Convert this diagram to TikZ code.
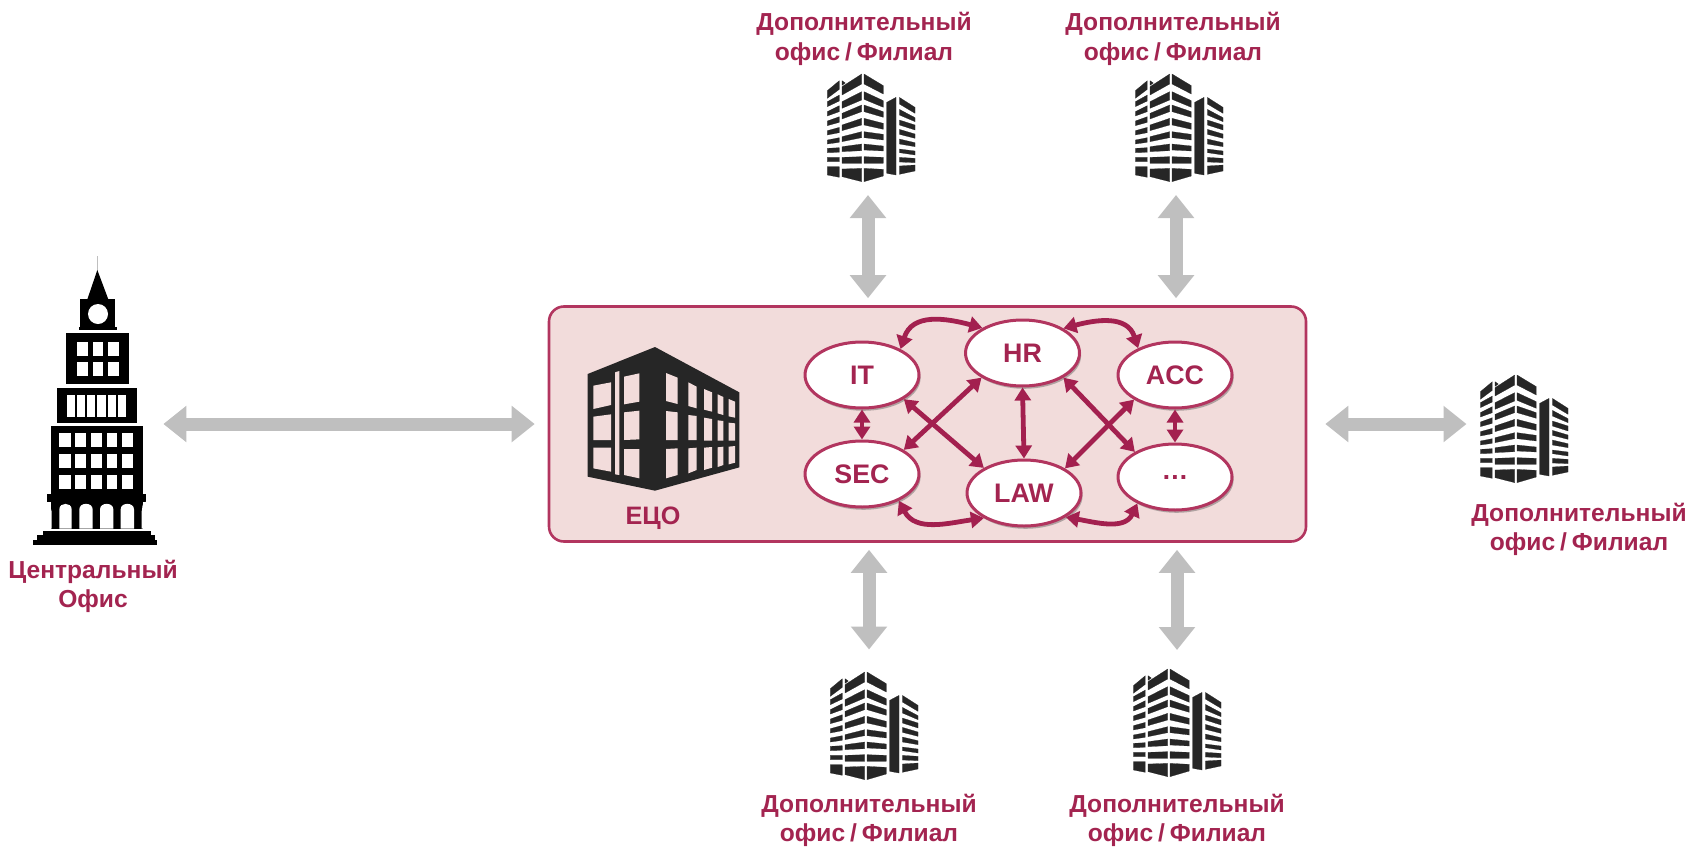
\documentclass[tikz,border=0pt]{standalone}
\usepackage{fontspec}
\setmainfont{Liberation Sans}
\usetikzlibrary{arrows.meta,shapes.geometric,shadows,calc}
\definecolor{wine}{HTML}{A3204F}
\definecolor{winetext}{HTML}{A32450}
\definecolor{boxfill}{HTML}{F2DCDB}
\definecolor{boxline}{HTML}{B2355F}
\definecolor{arrowgray}{HTML}{BFBFBF}
\definecolor{bldg}{HTML}{262626}
\newcommand\slashgap{\hspace{0.2em}/\hspace{0.2em}}
\tikzset{
  officelabel/.style={align=center,text=winetext,font=\fontsize{12.3}{14.7}\selectfont\bfseries,inner sep=0pt},
  dept/.style={ellipse,draw=boxline,line width=1.5pt,fill=white,minimum width=57pt,minimum height=33pt,inner sep=0pt,
    text=winetext,font=\fontsize{13.4}{15}\selectfont\bfseries,
    drop shadow={shadow xshift=0.8pt,shadow yshift=-1.4pt,opacity=0.4,fill=black!70}},
  link/.style={draw=wine,line width=2.4pt,{Triangle[width=8pt,length=6.5pt]}-{Triangle[width=8pt,length=6.5pt]}},
  bigarrow/.style={draw=arrowgray,line width=6.5pt,{Triangle[width=17.5pt,length=11.5pt]}-{Triangle[width=17.5pt,length=11.5pt]}},
  spot/.style={minimum width=44pt,minimum height=54pt,inner sep=0pt,outer sep=0pt},
  band/.style={fill=bldg,draw=bldg,line width=0.1pt,line join=round},
  office/.pic={
    \begin{scope}[x=0.16667pt,y=-0.16667pt]
      \path[band] (132,12)--(190,47)--(190,72)--(132,42)--cycle
        (132,65)--(190,92)--(190,112)--(132,88)--cycle
        (132,105)--(190,125)--(190,142)--(132,125)--cycle
        (132,145)--(190,160)--(190,178)--(132,165)--cycle
        (132,185)--(190,193)--(190,210)--(132,203)--cycle
        (132,222)--(190,228)--(190,243)--(132,240)--cycle
        (132,260)--(190,262)--(190,280)--(132,280)--cycle
        (132,295)--(190,298)--(190,318)--(132,335)--cycle;
      \path[band] (125,12)--(66,50)--(66,75)--(125,42)--cycle
        (125,65)--(66,95)--(66,115)--(125,90)--cycle
        (125,105)--(66,130)--(66,147)--(125,125)--cycle
        (125,145)--(66,165)--(66,182)--(125,165)--cycle
        (125,185)--(66,200)--(66,215)--(125,203)--cycle
        (125,222)--(66,230)--(66,245)--(125,242)--cycle
        (125,260)--(66,262)--(66,280)--(125,280)--cycle
        (125,295)--(66,297)--(66,320)--(125,335)--cycle
        (66,32)--(76,39)--(66,46)--cycle;
      \path[band] (58,32)--(22,62)--(22,85)--(58,58)--cycle
        (58,75)--(22,95)--(22,110)--(58,93)--cycle
        (58,107)--(22,125)--(22,138)--(58,125)--cycle
        (58,140)--(22,153)--(22,167)--(58,157)--cycle
        (58,172)--(22,182)--(22,195)--(58,188)--cycle
        (58,203)--(22,210)--(22,222)--(58,217)--cycle
        (58,233)--(22,235)--(22,248)--(58,247)--cycle
        (58,262)--(22,262)--(22,275)--(58,275)--cycle
        (58,290)--(22,290)--(22,315)--(58,322)--cycle;
      \path[band] (200,97)--(228,82)--(228,315)--(200,310)--cycle;
      \path[band] (238,82)--(285,112)--(285,130)--(238,102)--cycle
        (238,118)--(285,143)--(285,155)--(238,135)--cycle
        (238,150)--(285,165)--(285,180)--(238,165)--cycle
        (238,178)--(285,192)--(285,205)--(238,193)--cycle
        (238,207)--(285,218)--(285,230)--(238,222)--cycle
        (238,237)--(285,243)--(285,255)--(238,248)--cycle
        (238,262)--(285,265)--(285,278)--(238,276)--cycle
        (238,288)--(285,285)--(285,303)--(238,313)--cycle;
    \end{scope}
  }
}
\begin{document}
\begin{tikzpicture}[x=0.5pt,y=-0.5pt]
\useasboundingbox (0,0) rectangle (1690,846);

% central box
\node[draw=boxline,fill=boxfill,line width=1.3pt,rounded corners=7.5pt,minimum width=378.5pt,minimum height=117.5pt,inner sep=0pt] (box) at (927.5,424) {};

% central office building (ЕЦО)
\begin{scope}[shift={(540,295)},x=0.16667pt,y=-0.16667pt]
  \fill[bldg] (143,237)--(345,156)--(598,292)--(598,517)--(345,587)--(143,545)--cycle;
  \fill[boxfill]
    (160,272)--(213,262)--(213,330)--(160,342)--cycle
    (160,365)--(213,358)--(213,435)--(160,435)--cycle
    (160,458)--(213,458)--(213,530)--(160,520)--cycle
    (225,232)--(238,228)--(238,540)--(225,538)--cycle
    (252,245)--(298,235)--(298,320)--(252,328)--cycle
    (252,352)--(298,347)--(298,433)--(252,435)--cycle
    (252,462)--(298,462)--(298,550)--(252,540)--cycle
    (378,234)--(413,248)--(413,327)--(378,318)--cycle
    (378,348)--(413,352)--(413,435)--(378,435)--cycle
    (378,462)--(413,460)--(413,540)--(378,550)--cycle
    (445,262)--(470,275)--(470,340)--(445,333)--cycle
    (445,360)--(470,363)--(470,435)--(445,435)--cycle
    (445,460)--(470,458)--(470,525)--(445,535)--cycle
    (492,282)--(516,292)--(516,350)--(492,344)--cycle
    (492,368)--(516,372)--(516,437)--(492,437)--cycle
    (492,458)--(516,456)--(516,518)--(492,525)--cycle
    (533,298)--(550,306)--(550,360)--(533,355)--cycle
    (533,376)--(550,378)--(550,437)--(533,437)--cycle
    (533,457)--(550,455)--(550,510)--(533,516)--cycle
    (566,312)--(585,320)--(585,368)--(566,364)--cycle
    (566,383)--(585,385)--(585,437)--(566,437)--cycle
    (566,455)--(585,453)--(585,503)--(566,508)--cycle;
\end{scope}
\node[text=winetext,font=\fontsize{12.6}{14}\selectfont\bfseries,inner sep=0pt] (eco) at (653,518.5) {ЕЦО};

% departments
\node[dept] (it)  at (862,375) {IT};
\node[dept] (hr)  at (1022.5,353) {HR};
\node[dept] (acc) at (1175,375) {ACC};
\node[dept] (sec) at (862,474) {SEC};
\node[dept] (law) at (1024,493) {LAW};
\node[dept] (etc) at (1175,477) {…};

\draw[link] (it.34) to[out=72,in=165,looseness=1.15] (hr.148);
\draw[link] (hr.31) to[out=15,in=108,looseness=1.15] (acc.144);
\draw[link] (sec.-36) to[out=-62,in=-172,looseness=1.05] (law.212);
\draw[link] (law.-30) to[out=-10,in=-115,looseness=1.05] (etc.-145);
\draw[link] (it.-90) -- (sec.90);
\draw[link] (acc.-90) -- (etc.90);
\draw[link] (hr.-90) -- (law.90);
\draw[link] (it.-30) -- (law.148);
\draw[link] (sec.30) -- (hr.-149);
\draw[link] (hr.-31) -- (etc.148);
\draw[link] (law.31) -- (acc.-149);

% tower
\node[minimum width=62pt,minimum height=144.5pt,inner sep=0pt] (tower) at (95,400.5) {};
\begin{scope}[shift={(0,240)},x=0.16667pt,y=-0.16667pt]
  \draw[arrowgray,line width=0.8pt] (292,48)--(292,100);
  \fill[black] (292,90)--(325,178)--(262,178)--cycle;
  \fill[black] (240,178) rectangle (346,262);
  \fill[black] (236,262) rectangle (352,270);
  \fill[white] (294,222) circle[radius=30];
  \fill[black] (198,280) rectangle (386,432);
  \foreach \a/\b in {231/263,278/310,324/356}{
    \foreach \c/\d in {305/347,366/408}{\fill[white] (\a,\c) rectangle (\b,\d);}}
  \fill[black] (172,445) rectangle (412,548);
  \foreach \a in {200,230,261,292,323,354}{\fill[white] (\a,465) rectangle (\a+25,530);}
  \fill[black] (152,558) rectangle (428,770);
  \foreach \a/\b in {178/212,226/258,273/306,320/352,366/398}{
    \foreach \c/\d in {580/622,642/684,705/747}{\fill[white] (\a,\c) rectangle (\b,\d);}}
  \fill[black] (140,762) rectangle (438,785);
  \fill[black] (152,780) rectangle (428,866);
  \foreach \a/\b in {178/215,238/278,300/340,362/402}{
    \fill[white] (\a,866)--(\a,808) .. controls (\a,786) and (\b,786) .. (\b,808) --(\b,866)--cycle;}
  \fill[white] (140,785)--(150,795)--(155,815)--(155,866)--(140,866)--cycle
     (438,785)--(428,795)--(425,815)--(425,866)--(438,866)--cycle;
  \fill[black] (128,872) rectangle (452,885);
  \fill[black] (112,885) rectangle (465,900);
  \fill[black] (98,900) rectangle (470,915);
\end{scope}
\node[officelabel] (central) at (93,586.5) {Центральный\\Офис};

% branch offices
\node[spot] (o1) at (868,128) {};
\node[spot] (o2) at (1176,128) {};
\node[spot] (o3) at (1524.5,428) {};
\node[spot] (o4) at (869,725.5) {};
\node[spot] (o5) at (1177,723) {};
\pic at (820,70) {office};
\pic at (1128,70) {office};
\pic at (1473,371) {office};
\pic at (823,668) {office};
\pic at (1126,665) {office};

\node[officelabel] (l1) at (864,39) {Дополнительный\\офис\slashgap Филиал};
\node[officelabel] (l2) at (1173,39) {Дополнительный\\офис\slashgap Филиал};
\node[officelabel] (l3) at (1579,529.5) {Дополнительный\\офис\slashgap Филиал};
\node[officelabel] (l4) at (869,820.5) {Дополнительный\\офис\slashgap Филиал};
\node[officelabel] (l5) at (1177,820.5) {Дополнительный\\офис\slashgap Филиал};

% grey connectors
\draw[bigarrow,shorten <=3pt,shorten >=6.5pt] (tower.east |- box.west) -- (box.west);
\draw[bigarrow,shorten <=9pt,shorten >=7pt] (box.east) -- (box.east -| o3.west);
\draw[bigarrow,shorten <=6.5pt,shorten >=3.5pt] (o1.south) -- (o1.south |- box.north);
\draw[bigarrow,shorten <=6.5pt,shorten >=3.5pt] (o2.south) -- (o2.south |- box.north);
\draw[bigarrow,shorten <=3.5pt,shorten >=11pt] (o4.north |- box.south) -- (o4.north);
\draw[bigarrow,shorten <=3.5pt,shorten >=9.5pt] (o5.north |- box.south) -- (o5.north);
\end{tikzpicture}
\end{document}
